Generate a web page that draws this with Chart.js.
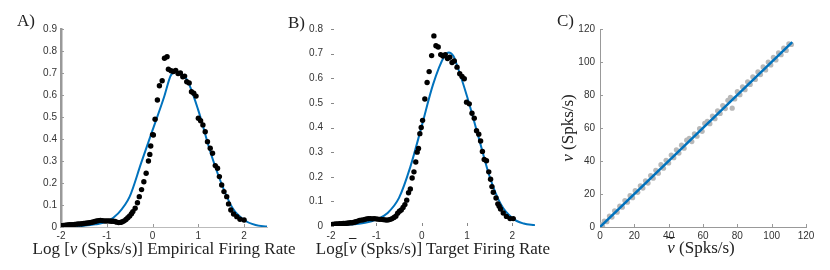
<!DOCTYPE html>
<html>
<head>
<meta charset="utf-8">
<script src="https://cdn.jsdelivr.net/npm/chart.js@4.4.0/dist/chart.umd.min.js"></script>
<style>
  html, body { margin: 0; padding: 0; background: #fff; }
  #wrap { position: relative; width: 830px; height: 270px; background: #fff; overflow: hidden; }
  canvas { position: absolute; top: 0; }
  .t { position: absolute; font-family: 'Liberation Serif', 'Times New Roman', serif; font-size: 17px; line-height: 17px; color: #222; white-space: nowrap; }
  .ctr { text-align: center; }
  .bar { text-decoration: overline; }
</style>
</head>
<body>
<div id="wrap">
  <canvas id="cA" width="280" height="270" style="left:0px"></canvas>
  <canvas id="cB" width="270" height="270" style="left:280px"></canvas>
  <canvas id="cC" width="275" height="270" style="left:555px"></canvas>
  <div class="t" style="left:17px;top:12px;">A)</div>
  <div class="t" style="left:288px;top:14px;">B)</div>
  <div class="t" style="left:557px;top:12px;">C)</div>
  <div class="t ctr" style="left:0px;width:328px;top:240px;">Log [<i>ν</i> (Spks/s)] Empirical Firing Rate</div>
  <div class="t ctr" style="left:280px;width:306px;top:240px;">Log[<i class="bar">ν</i> (Spks/s)] Target Firing Rate</div>
  <div class="t ctr" style="left:558px;width:286px;top:239px;"><i class="bar">ν</i> (Spks/s)</div>
  <div class="t ctr" style="left:527px;width:80px;top:120px;transform:rotate(-90deg);transform-origin:40px 8px;"><i>ν</i> (Spks/s)</div>
</div>
<script>
// ---------- Panel A: empirical firing rate (log) ----------
const aDotX = [-1.98,-1.94,-1.9,-1.86,-1.82,-1.78,-1.74,-1.7,-1.66,-1.62,-1.58,-1.54,-1.5,-1.46,-1.42,-1.38,-1.34,-1.3,-1.26,-1.22,-1.18,-1.14,-1.1,-1.06,-1.02,-0.98,-0.94,-0.9,-0.86,-0.82,-0.78,-0.74,-0.7,-0.66,-0.62,-0.58,-0.54,-0.5,-0.46,-0.43,-0.38,-0.33,-0.29,-0.24,-0.19,-0.14,-0.09,-0.06,-0.04,0.0,0.018,0.055,0.106,0.15,0.21,0.26,0.317,0.346,0.404,0.455,0.506,0.557,0.608,0.66,0.70,0.747,0.80,0.85,0.90,0.95,1.0,1.05,1.10,1.15,1.2,1.26,1.31,1.37,1.42,1.46,1.51,1.56,1.62,1.66,1.71,1.77,1.84,1.91,2.0];
const aDotY = [0.006,0.007,0.008,0.009,0.01,0.01,0.011,0.012,0.013,0.014,0.014,0.015,0.016,0.017,0.018,0.019,0.021,0.023,0.025,0.027,0.029,0.03,0.029,0.028,0.027,0.028,0.027,0.026,0.026,0.025,0.022,0.02,0.021,0.024,0.028,0.034,0.042,0.05,0.06,0.07,0.085,0.11,0.138,0.17,0.206,0.244,0.30,0.33,0.368,0.42,0.418,0.49,0.577,0.642,0.665,0.767,0.774,0.717,0.71,0.707,0.712,0.698,0.70,0.683,0.686,0.66,0.655,0.615,0.608,0.595,0.494,0.483,0.464,0.433,0.388,0.358,0.335,0.279,0.267,0.229,0.191,0.161,0.138,0.105,0.077,0.059,0.047,0.035,0.032];
const aFitX = [-2,-1.75,-1.5,-1.25,-1,-0.75,-0.5,-0.25,0,0.25,0.4,0.5,0.6,0.75,1,1.25,1.5,1.75,2,2.25,2.5];
const aFitY = [0.001,0.003,0.006,0.012,0.024,0.062,0.138,0.29,0.44,0.59,0.69,0.705,0.70,0.67,0.53,0.35,0.2,0.085,0.032,0.009,0.002];
const aXTicks = [-2,-1,0,1,2];
const aYTicks = [0,0.1,0.2,0.3,0.4,0.5,0.6,0.7,0.8,0.9];

// ---------- Panel B: target firing rate (log) ----------
const bDotX = [-1.97,-1.93,-1.89,-1.85,-1.81,-1.77,-1.73,-1.69,-1.65,-1.61,-1.57,-1.53,-1.49,-1.45,-1.41,-1.37,-1.33,-1.29,-1.25,-1.21,-1.17,-1.13,-1.09,-1.05,-1.01,-0.97,-0.93,-0.89,-0.85,-0.81,-0.77,-0.73,-0.69,-0.65,-0.61,-0.57,-0.53,-0.49,-0.45,-0.41,-0.37,-0.33,-0.29,-0.25,-0.21,-0.17,-0.13,-0.1,-0.07,-0.04,-0.01,0.02,0.07,0.12,0.165,0.22,0.27,0.315,0.365,0.42,0.47,0.52,0.57,0.62,0.67,0.72,0.78,0.84,0.89,0.94,0.99,1.05,1.11,1.16,1.21,1.26,1.30,1.34,1.38,1.43,1.48,1.52,1.55,1.58,1.64,1.68,1.71,1.74,1.8,1.87,1.95,2.02];
const bDotY = [0.006,0.007,0.008,0.008,0.009,0.009,0.01,0.01,0.011,0.012,0.013,0.013,0.015,0.017,0.02,0.023,0.024,0.025,0.027,0.029,0.03,0.03,0.029,0.03,0.029,0.028,0.027,0.027,0.026,0.025,0.024,0.025,0.027,0.03,0.035,0.04,0.052,0.06,0.065,0.075,0.087,0.105,0.135,0.15,0.195,0.22,0.26,0.3,0.315,0.375,0.40,0.429,0.516,0.583,0.627,0.692,0.772,0.732,0.727,0.696,0.69,0.696,0.68,0.685,0.664,0.67,0.645,0.618,0.607,0.598,0.503,0.496,0.458,0.438,0.387,0.373,0.345,0.303,0.27,0.265,0.22,0.19,0.16,0.137,0.114,0.09,0.08,0.069,0.053,0.039,0.03,0.03];
const bFitX = [-2,-1.75,-1.5,-1.25,-1,-0.75,-0.5,-0.25,0,0.25,0.5,0.6,0.7,0.75,1,1.25,1.5,1.75,2,2.25,2.5];
const bFitY = [0.002,0.004,0.007,0.013,0.026,0.053,0.114,0.24,0.405,0.574,0.689,0.705,0.69,0.668,0.527,0.364,0.2,0.087,0.032,0.01,0.003];
const bXTicks = [-2,-1,0,1,2];
const bYTicks = [0,0.1,0.2,0.3,0.4,0.5,0.6,0.7,0.8];

// ---------- Panel C: empirical vs target rate ----------
const cDotX = [0.5,1.5,2.5,4,5.5,7,8.5,10,11.5,13,14.5,16,17.5,19,20.5,22,23.5,25,26.5,28,29.5,31,32.5,34,35.5,37,38.5,40,41.5,43,44.5,46,47.5,49,50.5,52,53.5,55,56.5,58,59.5,61,62.5,64,65.5,67,68.5,70,71.5,73,74.5,76,77,78.5,80,81.5,83,84.5,86,87.5,89,90.5,92,93.5,95,96.5,98,99.5,101,102.5,104,105.5,107,108.5,110,111.5];
const cDotY = [1.4,0.4,3.6,3.2,6.6,6.0,9.8,9.0,12.6,12.0,16.0,15.0,19.0,17.8,22.0,21.0,25.0,23.6,28.0,26.6,31.2,29.6,34.4,32.6,37.8,35.6,40.4,38.8,43.6,42.0,46.8,44.8,49.6,47.8,52.6,53.8,51.8,56.4,55.0,59.6,58.0,62.8,64.0,62.6,67.2,65.6,70.4,68.8,73.6,71.8,76.8,78.6,72.0,77.6,82.0,80.2,85.0,83.2,88.0,86.4,91.0,89.4,94.0,92.4,97.0,95.2,100.0,98.2,102.8,101.2,105.6,104.4,108.4,107.0,111.0,110.6];
const cLineX = [0,112];
const cLineY = [0,112];
const cTicks = [0,20,40,60,80,100,120];

const BLUE = '#0072BD';
const TICKFONT = { family: "'Liberation Sans', Arial, sans-serif", size: 10 };
const TICKCOLOR = '#333';

function pts(xs, ys) { return xs.map((x, i) => ({ x: x, y: ys[i] })); }

const inwardTicks = {
  id: 'inwardTicks',
  beforeDatasetsDraw(chart, args, opts) {
    if (!opts || !opts.len) return;
    const ctx = chart.ctx;
    const { left, bottom } = chart.chartArea;
    ctx.save();
    ctx.strokeStyle = opts.color || '#888';
    ctx.lineWidth = 1;
    if (opts.x) {
      chart.scales.x.ticks.forEach(t => {
        const px = Math.round(chart.scales.x.getPixelForValue(t.value)) + 0.5;
        ctx.beginPath(); ctx.moveTo(px, bottom); ctx.lineTo(px, bottom - opts.len); ctx.stroke();
      });
    }
    if (opts.y) {
      chart.scales.y.ticks.forEach(t => {
        const py = Math.round(chart.scales.y.getPixelForValue(t.value)) + 0.5;
        ctx.beginPath(); ctx.moveTo(left, py); ctx.lineTo(left + opts.len, py); ctx.stroke();
      });
    }
    ctx.restore();
  }
};

function makeChart(id, cfg) {
  return new Chart(document.getElementById(id), {
    type: 'scatter',
    data: { datasets: cfg.datasets },
    options: {
      responsive: false,
      animation: false,
      devicePixelRatio: 1,
      layout: { padding: cfg.padding },
      plugins: { legend: { display: false }, tooltip: { enabled: false }, inwardTicks: cfg.ticks },
      scales: {
        x: {
          type: 'linear', min: cfg.xmin, max: cfg.xmax,
          afterBuildTicks: s => { s.ticks = cfg.xTicks.map(v => ({ value: v })); },
          afterFit: s => { s.height = cfg.xh; },
          grid: { display: false, drawTicks: false },
          border: cfg.xBorder,
          ticks: { font: TICKFONT, color: TICKCOLOR, padding: cfg.xpad, maxRotation: 0, autoSkip: false }
        },
        y: {
          type: 'linear', min: cfg.ymin, max: cfg.ymax,
          afterBuildTicks: s => { s.ticks = cfg.yTicks.map(v => ({ value: v })); },
          afterFit: s => { s.width = cfg.yw; },
          grid: { display: false, drawTicks: false },
          border: cfg.yBorder,
          ticks: { font: TICKFONT, color: TICKCOLOR, padding: cfg.ypad, autoSkip: false }
        }
      }
    },
    plugins: [inwardTicks]
  });
}

const dotStyle = { backgroundColor: '#000', borderColor: '#000', pointRadius: 2.7, pointBorderWidth: 0, showLine: false };
const fitStyle = { borderColor: BLUE, borderWidth: 2, pointRadius: 0, showLine: true, tension: 0.4, cubicInterpolationMode: 'monotone', fill: false };

makeChart('cA', {
  datasets: [
    Object.assign({ data: pts(aDotX, aDotY) }, dotStyle),
    Object.assign({ data: pts(aFitX, aFitY) }, fitStyle)
  ],
  padding: { left: 0, top: 29, right: 13, bottom: 0 },
  xmin: -2, xmax: 2.5, ymin: 0, ymax: 0.9,
  xTicks: aXTicks, yTicks: aYTicks,
  xh: 43, yw: 61, xpad: 3, ypad: 4,
  xBorder: { display: true, color: '#bbb', width: 1 },
  yBorder: { display: true, color: '#999', width: 2.5 },
  ticks: { len: 3, x: true, y: true, color: '#999' }
});

makeChart('cB', {
  datasets: [
    Object.assign({ data: pts(bDotX, bDotY) }, dotStyle),
    Object.assign({ data: pts(bFitX, bFitY) }, fitStyle)
  ],
  padding: { left: 0, top: 29, right: 15, bottom: 0 },
  xmin: -2, xmax: 2.5, ymin: 0, ymax: 0.8,
  xTicks: bXTicks, yTicks: bYTicks,
  xh: 44, yw: 51, xpad: 4, ypad: 8,
  xBorder: { display: false },
  yBorder: { display: false },
  ticks: { len: 3, x: true, y: true, color: '#888' }
});

makeChart('cC', {
  datasets: [
    { data: pts(cLineX, cLineY), borderColor: BLUE, borderWidth: 2.5, pointRadius: 0, showLine: true, fill: false },
    { data: pts(cDotX, cDotY), backgroundColor: '#b8b8b8', borderColor: '#b8b8b8', pointRadius: 2.6, pointBorderWidth: 0, showLine: false }
  ],
  padding: { left: 0, top: 29, right: 24, bottom: 0 },
  xmin: 0, xmax: 120, ymin: 0, ymax: 120,
  xTicks: cTicks, yTicks: cTicks,
  xh: 43, yw: 45, xpad: 3, ypad: 5,
  xBorder: { display: true, color: '#999', width: 1 },
  yBorder: { display: true, color: '#999', width: 1 },
  ticks: { len: 3, x: true, y: true, color: '#999' }
});
</script>
</body>
</html>
